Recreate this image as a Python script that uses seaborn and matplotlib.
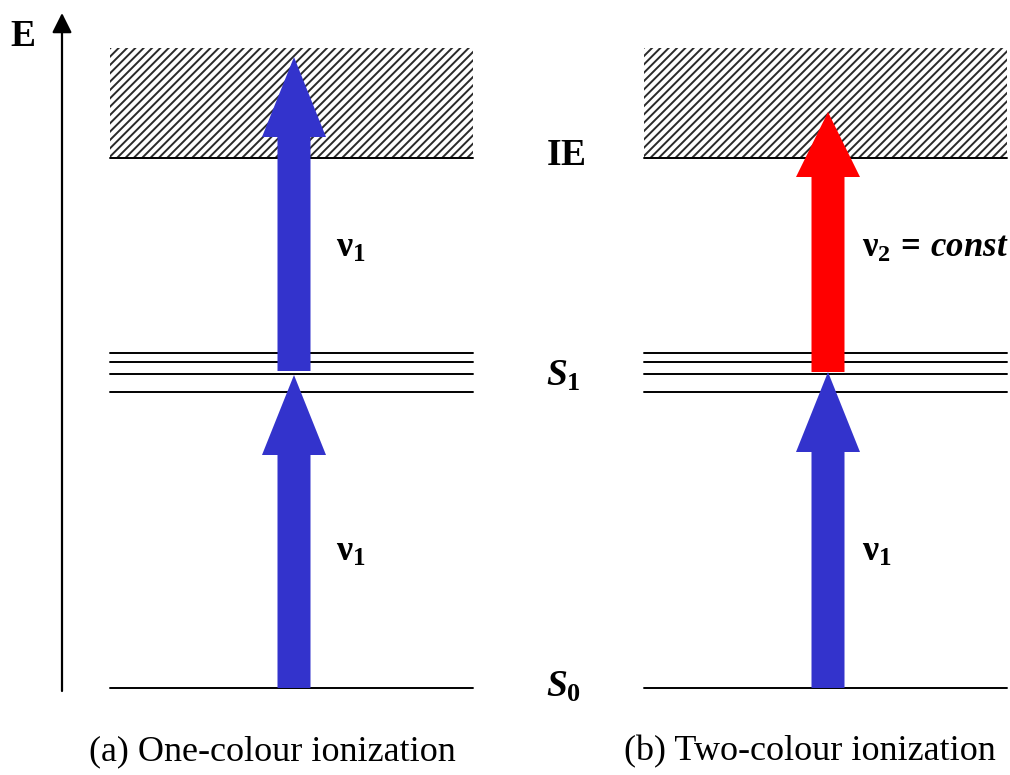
import numpy as np
import pandas as pd
import matplotlib
matplotlib.use("Agg")
import matplotlib.pyplot as plt
import seaborn as sns
from matplotlib.patches import Rectangle

# ---------------- data (diagram units = pixel rows, y grows downward) ----------------
panel_names = ["a", "b"]
panel_x0 = [110, 644]
panel_x1 = [473, 1007]
level_S0 = 688
level_S1 = [353, 362, 374, 392]
level_IE = 158
continuum_top = 48

arrow_panel = [0, 0, 1, 1]
arrow_x = [294, 294, 828, 828]
arrow_from = [688, 371, 688, 372]
arrow_to = [375, 57, 372, 112]
arrow_head_len = [80, 80, 80, 65]
arrow_color = ["#3333CC", "#3333CC", "#3333CC", "#FF0000"]

photon_labels = [r"$\mathrm{\nu}_1$", r"$\mathrm{\nu}_1$", r"$\mathrm{\nu}_1$",
                 r"$\mathrm{\nu}_2\,=\,\mathit{const}$"]
photon_label_x = [336, 336, 862, 862]
photon_label_y = [257, 561, 561, 257]
photon_label_size = [26, 26, 26, 25]

level_names = [r"$\mathbf{IE}$", r"$S_1$", r"$S_0$"]
level_label_y = [165, 386, 697]
level_label_x = 546

captions = ["(a) One-colour ionization", "(b) Two-colour ionization"]
caption_x = [272, 810]
caption_y = 760

# ---------------- style ----------------
sns.set_theme(style="white")
plt.rcParams["font.family"] = ["Liberation Serif", "DejaVu Serif"]
plt.rcParams["text.color"] = "black"
plt.rcParams["mathtext.fontset"] = "custom"
plt.rcParams["mathtext.rm"] = "Liberation Serif:bold"
plt.rcParams["mathtext.bf"] = "Liberation Serif:bold"
plt.rcParams["mathtext.it"] = "Liberation Serif:italic:bold"
plt.rcParams["hatch.linewidth"] = 1.4

fig = plt.figure(figsize=(10.10, 7.75), dpi=100)
ax = fig.add_axes([0, 0, 1, 1])

# ---------------- energy levels via seaborn ----------------
rows = []
seg = 0
for p in range(len(panel_names)):
    for y in [level_S0] + level_S1 + [level_IE]:
        rows.append({"seg": seg, "x": panel_x0[p], "y": y})
        rows.append({"seg": seg, "x": panel_x1[p], "y": y})
        seg += 1
levels = pd.DataFrame(rows)
sns.lineplot(data=levels, x="x", y="y", units="seg", estimator=None,
             color="black", linewidth=1.4, ax=ax, sort=False)
ax.set_xlim(0, 1010)
ax.set_ylim(775, 0)
ax.axis("off")

# ionization continuum (hatched)
for p in range(len(panel_names)):
    ax.add_patch(Rectangle((panel_x0[p], continuum_top), panel_x1[p] - panel_x0[p],
                           level_IE - continuum_top, facecolor="white",
                           edgecolor="#2a2a2a", linewidth=0, hatch="////", zorder=1))

# ---------------- photon arrows ----------------
for i in range(len(arrow_x)):
    ax.arrow(arrow_x[i], arrow_from[i], 0, arrow_to[i] - arrow_from[i],
             width=33, head_width=64, head_length=arrow_head_len[i],
             length_includes_head=True, color=arrow_color[i], linewidth=0, zorder=3)
    ax.text(photon_label_x[i], photon_label_y[i], photon_labels[i],
            fontsize=photon_label_size[i], ha="left", va="baseline", color="black")

for name, y in zip(level_names, level_label_y):
    ax.text(level_label_x, y, name, fontsize=27, ha="left", va="baseline", color="black")

# energy axis
ax.annotate("", xy=(62, 13), xytext=(62, 691),
            arrowprops=dict(arrowstyle="-|>,head_length=1.0,head_width=0.5",
                            color="black", lw=1.6, shrinkA=0, shrinkB=0))
ax.text(10, 46, "E", fontsize=27, fontweight="bold", ha="left", va="baseline", color="black")

for c, x in zip(captions, caption_x):
    ax.text(x, caption_y, c, fontsize=26, ha="center", va="baseline", color="black")

fig.savefig("out.png", dpi=100)
